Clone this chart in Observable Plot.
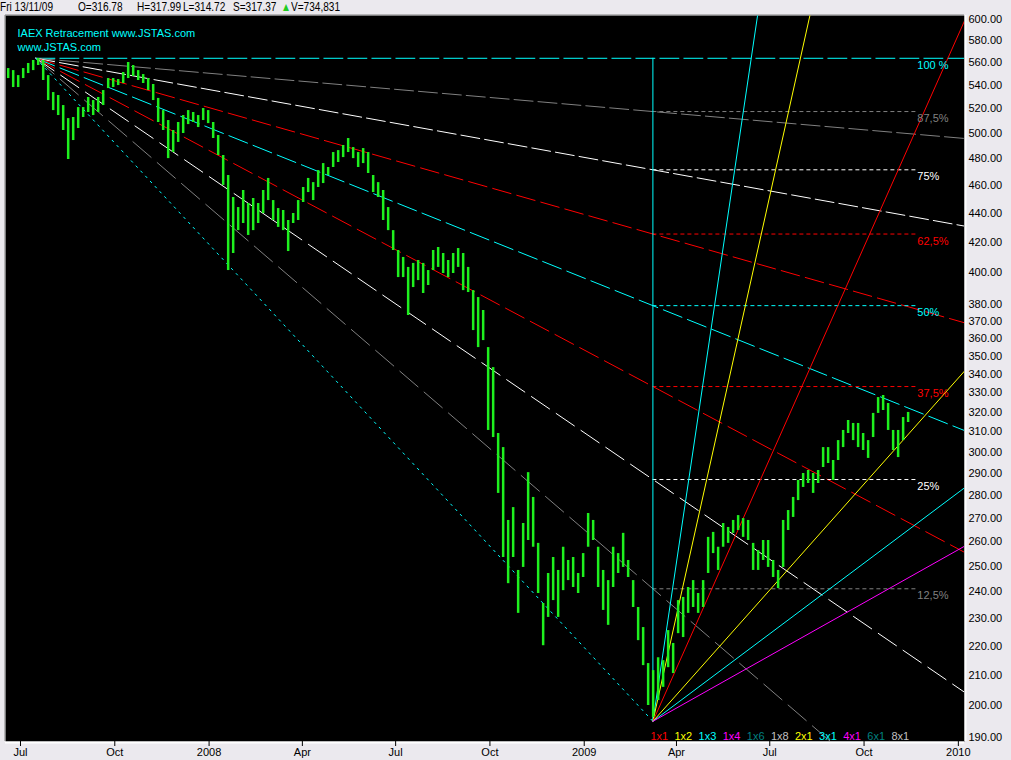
<!DOCTYPE html>
<html><head><meta charset="utf-8">
<script src="https://cdn.jsdelivr.net/npm/d3@7"></script>
<script src="https://cdn.jsdelivr.net/npm/@observablehq/plot@0.6"></script>
<style>
body{margin:0;background:#ebe9ee;font-family:Arial,"Liberation Sans",sans-serif;}
#hdr{position:relative;height:14px;width:1011px;font-size:12px;color:#000;font-family:Arial,"Liberation Sans",sans-serif;}
#hdr span{position:absolute;top:0;line-height:14px;white-space:nowrap;transform:scaleX(0.84);transform-origin:0 50%}
#chart svg{display:block}
</style></head><body>
<div id="hdr"></div>
<div id="chart"></div>
<script>
// ---------- header ----------
const headerTexts = ["Fri 13/11/09","O=316.78","H=317.99","L=314.72","S=317.37","\u25B2","V=734,831"];
const headerLeft  = [0,78,137,183,233,281,291];
const headerColor = ["#000","#000","#000","#000","#000","#22cc22","#000"];

// ---------- price data (AEX, ~5 day bins) ----------
const firstBarDate = "2007-06-19", lastBarDate = "2009-11-13";
const highs = [554.7,552.9,548.5,554.7,559.2,561.9,563.7,561.9,548.5,533.8,
531.3,522.8,512.0,512.9,521.1,521.1,529.6,527.0,529.6,535.5,
545.9,545.9,545.0,551.2,560.1,557.4,552.9,549.4,545.9,540.7,
528.8,518.6,510.4,502.3,508.8,514.5,518.6,517.0,514.5,520.3,
518.6,508.8,498.3,482.6,467.4,451.2,444.0,456.3,446.9,450.5,
446.9,456.3,465.2,449.0,443.3,441.9,434.9,439.8,449.0,458.5,
465.2,462.1,471.1,476.4,473.4,484.9,486.4,490.4,495.9,488.8,
484.9,488.0,484.9,467.4,462.1,456.3,444.0,427.9,414.5,409.9,
403.4,406.0,407.9,406.0,401.4,414.5,416.5,412.5,407.9,412.5,
415.8,412.5,403.4,388.7,384.4,376.5,354.8,343.6,309.2,302.3,
269.0,274.6,248.3,267.7,290.4,279.1,259.3,235.5,247.1,253.5,
248.3,257.7,252.3,253.5,247.1,255.1,272.0,269.0,257.7,248.3,
244.3,257.7,255.1,263.5,252.3,244.3,234.0,226.6,213.9,211.5,
215.9,214.9,225.5,220.9,236.6,237.8,241.6,244.3,239.3,244.3,
261.8,263.9,257.7,267.7,266.0,269.0,271.1,269.8,269.0,259.3,
256.3,260.5,260.5,252.3,248.3,269.0,273.3,279.1,286.8,290.0,
291.4,290.0,291.4,302.3,302.3,296.1,305.7,310.7,315.7,314.2,
314.2,309.2,305.7,319.3,327.5,328.6,324.4,310.7,310.7,317.2,
319.8];
const lows = [545.9,538.1,538.1,545.9,550.3,552.9,557.4,544.2,527.0,518.6,
514.5,502.3,479.5,494.3,503.9,512.9,517.0,514.5,517.0,522.8,
537.2,538.1,539.8,541.6,545.9,547.7,544.2,541.6,535.5,527.0,
508.8,502.3,480.2,484.9,492.8,499.9,507.1,508.8,504.7,510.4,
507.9,495.9,482.6,460.0,401.4,412.5,427.9,432.8,424.6,427.9,
432.8,439.8,449.0,434.9,430.1,427.9,413.8,432.8,434.9,447.6,
454.8,449.0,458.5,461.4,467.4,473.4,477.2,481.0,484.9,480.2,
473.4,476.4,468.9,454.8,451.2,434.9,427.9,414.5,396.9,396.9,
373.5,390.6,395.0,386.9,391.9,401.4,403.4,399.5,396.9,399.5,
403.4,388.7,387.5,364.6,354.8,358.8,310.7,307.2,280.9,253.5,
243.1,253.5,231.8,249.5,260.5,257.7,239.3,220.1,230.3,236.6,
230.3,240.4,244.3,241.6,239.3,245.5,257.7,260.5,241.6,232.9,
227.4,241.6,247.1,249.5,245.5,234.0,221.9,213.2,200.0,196.2,
201.6,205.9,212.5,210.5,224.4,223.0,231.8,234.0,231.8,234.0,
247.1,255.1,248.3,257.7,259.3,263.5,264.7,261.8,260.5,248.3,
248.3,252.3,249.5,245.5,241.2,249.5,264.7,270.3,277.7,283.6,
285.4,280.9,285.4,292.8,294.7,286.8,296.1,302.3,309.2,305.7,
302.3,300.9,297.1,307.2,319.3,320.8,310.7,300.9,297.5,305.7,
314.7];

// ---------- swing & retracement ----------
const swingHigh = 563.9, swingLow = 195.0;
const swingHighDate = "2007-07-16", swingLowDate = "2009-03-09";
const retrLevels = [1, 0.875, 0.75, 0.625, 0.5, 0.375, 0.25, 0.125, 0];
const retrLabels = ["100 %","87,5%","75%","62,5%","50%","37,5%","25%","12,5%",""];
const retrColors = ["#00ffff","#808080","#ffffff","#ff0000","#00ffff","#ff0000","#ffffff","#808080","#00ffff"];
const fanDash    = ["19,5","19,5","19,5","19,6","20,6","21,7","22,8","24,8","2,5"];
const retrLabelDate = "2009-11-22";

// ---------- gann fan from the low ----------
const gann1x1LogPerDay = 0.00369;
const gannRatios = [3, 2, 1, 1/2, 1/3, 1/4];
const gannColors = ["#00ffff","#ffff00","#ff0000","#ffff00","#00ffff","#ff00ff"];
const gannLegend = ["1x1","1x2","1x3","1x4","1x6","1x8","2x1","3x1","4x1","6x1","8x1"];
const gannLegendColors = ["#ff0000","#ffff00","#00ffff","#ff00ff","#008080","#c0c0c0","#ffff00","#00ffff","#ff00ff","#008080","#c0c0c0"];

// ---------- axes ----------
const xTickDates  = ["2007-07-01","2007-10-01","2008-01-01","2008-04-01","2008-07-01","2008-10-01","2009-01-01","2009-04-01","2009-07-01","2009-10-01","2010-01-01"];
const xTickLabels = ["Jul","Oct","2008","Apr","Jul","Oct","2009","Apr","Jul","Oct","2010"];
const yTicks = [190,200,210,220,230,240,250,260,270,280,290,300,310,320,330,340,350,360,370,380,400,420,440,460,480,500,520,540,560,580,600];
const titleLines = ["IAEX Retracement www.JSTAS.com","www.JSTAS.com"];

// ---------- build ----------
const hdr = document.getElementById("hdr");
headerTexts.forEach((t,i)=>{const s=document.createElement("span");s.textContent=t;s.style.left=headerLeft[i]+"px";s.style.color=headerColor[i];hdr.appendChild(s);});

const D = s => new Date(s + "T00:00:00Z");
const DAY = 864e5;
const xStart = new Date(Date.UTC(2007,5,16,9)), xEnd = new Date(Date.UTC(2010,0,7));
const yMin = 188.8, yMax = 603.9;
const t0 = +D(firstBarDate), t1 = +D(lastBarDate);
const bars = highs.map((h,i)=>({date:new Date(t0+(t1-t0)*i/(highs.length-1)), high:h, low:lows[i]}));
const tH = D(swingHighDate), tL = D(swingLowDate), tLab = D(retrLabelDate);
const span = (tL - tH)/DAY;
const lnH = Math.log(swingHigh);
const farEnd = new Date(+xEnd + 3*DAY);

const fanHighMarks = retrLevels.map((f,i)=>{
  const pf = swingLow + f*(swingHigh-swingLow);
  const end = f === 0 ? tL : farEnd;
  const days = (end - tH)/DAY;
  const p = Math.exp(lnH + (Math.log(pf)-lnH)*days/span);
  return Plot.line([{t:tH,p:swingHigh},{t:end,p}], {x:"t", y:"p", stroke:retrColors[i], strokeDasharray:fanDash[i], strokeWidth:1, clip:true});
});
const retr = retrLevels.slice(1,8).map((f,i)=>({p: swingLow + f*(swingHigh-swingLow), c: retrColors[i+1]}));
const retrText = retrLevels.slice(0,8).map((f,i)=>({p: swingLow + f*(swingHigh-swingLow), c: retrColors[i], label: retrLabels[i]}));
const gannMarks = gannRatios.map((r,i)=>{
  const days = (farEnd - tL)/DAY;
  return Plot.line([{t:tL,p:swingLow},{t:farEnd,p:swingLow*Math.exp(r*gann1x1LogPerDay*days)}], {x:"t", y:"p", stroke:gannColors[i], strokeWidth:1, clip:true});
});
const legendMarks = gannLegend.map((lab,i)=>
  Plot.text([lab], {x:()=>tL, y:()=>swingLow, text:d=>d, fill:gannLegendColors[i], textAnchor:"start", dx:-2.5+24.1*i, dy:15, fontSize:11}));
const titleMarks = titleLines.map((t,i)=>
  Plot.text([t], {frameAnchor:"top-left", text:d=>d, fill:"#00ffff", textAnchor:"start", lineAnchor:"middle", dx:12, dy:18+14*i, fontSize:11}));
const xTickMap = new Map(xTickDates.map((d,i)=>[+D(d), xTickLabels[i]]));

const chart = Plot.plot({
  width: 1011, height: 746,
  marginLeft: 5, marginRight: 47, marginTop: 1, marginBottom: 19,
  style: {background:"#ebe9ee", fontFamily:"Arial, 'Liberation Sans', sans-serif", fontSize:"11px", color:"#000", overflow:"visible"},
  x: {type:"utc", domain:[xStart, xEnd]},
  y: {type:"log", domain:[yMin, yMax]},
  marks: [
    Plot.frame({fill:"#000"}),
    ...fanHighMarks,
    Plot.ruleY(retr, {y:"p", x1:()=>tL, x2:()=>tLab, stroke:d=>d.c, strokeDasharray:"4,3"}),
    Plot.ruleX([tL], {y1:swingLow, y2:swingHigh, stroke:"#00ffff"}),
    ...gannMarks,
    Plot.ruleX(bars, {x:"date", y1:"low", y2:"high", stroke:"#1ef01e", strokeWidth:2.5}),
    Plot.text(retrText, {x:()=>tLab, y:"p", text:"label", fill:d=>d.c, textAnchor:"start", dy:7, fontSize:11}),
    ...legendMarks,
    ...titleMarks,
    Plot.ruleY([yMax], {stroke:"#808080", dy:-0.5}),
    Plot.ruleX([xStart], {stroke:"#808080", dx:-0.5}),
    Plot.ruleY([yMin], {stroke:"#ffffff", strokeWidth:2, dy:1}),
    Plot.ruleX([xEnd], {stroke:"#ffffff", strokeWidth:2, dx:1}),
    Plot.axisY({anchor:"right", ticks:yTicks, tickFormat:d=>d.toFixed(2), tickSize:0, tickPadding:4, label:null, fontSize:11}),
    Plot.axisX({ticks:xTickDates.map(D), tickFormat:d=>xTickMap.get(+d), tickSize:5, tickPadding:2, label:null, fontSize:11})
  ]
});
document.getElementById("chart").appendChild(chart);
</script>
</body></html>
